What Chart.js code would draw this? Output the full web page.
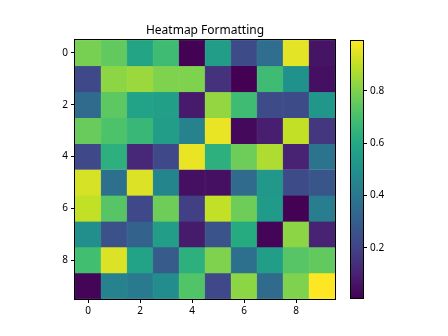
<!DOCTYPE html>
<html><head><meta charset="utf-8">
<script src="https://cdn.jsdelivr.net/npm/chart.js@4"></script>
<style>html,body{margin:0;padding:0;background:#fff}#wrap{position:relative;width:448px;height:336px}canvas{position:absolute;left:0;top:0}</style>
</head><body><div id="wrap"><canvas id="main" width="448" height="336"></canvas><canvas id="cbar" width="448" height="336"></canvas></div>
<script>
const chartTitle = 'Heatmap Formatting';
const colLabels = ['0','1','2','3','4','5','6','7','8','9'];
const axisTicks = [0, 2, 4, 6, 8];
const colorbarTicks = [0.2, 0.4, 0.6, 0.8];
const row0 = [0.79, 0.75, 0.58, 0.68, 0.01, 0.55, 0.23, 0.36, 0.95, 0.06];
const row1 = [0.22, 0.82, 0.84, 0.80, 0.80, 0.15, 0.008, 0.68, 0.50, 0.05];
const row2 = [0.35, 0.74, 0.57, 0.56, 0.08, 0.83, 0.68, 0.23, 0.23, 0.52];
const row3 = [0.76, 0.71, 0.66, 0.55, 0.44, 0.96, 0.03, 0.09, 0.90, 0.16];
const row4 = [0.22, 0.63, 0.12, 0.22, 0.96, 0.63, 0.77, 0.87, 0.10, 0.38];
const row5 = [0.93, 0.37, 0.94, 0.45, 0.05, 0.05, 0.35, 0.53, 0.23, 0.27];
const row6 = [0.90, 0.73, 0.22, 0.77, 0.19, 0.90, 0.77, 0.54, 0.01, 0.42];
const row7 = [0.49, 0.25, 0.32, 0.55, 0.08, 0.26, 0.61, 0.02, 0.82, 0.10];
const row8 = [0.69, 0.94, 0.57, 0.29, 0.63, 0.80, 0.37, 0.55, 0.73, 0.75];
const row9 = [0.02, 0.44, 0.41, 0.48, 0.72, 0.22, 0.82, 0.35, 0.80, 0.99];

const rows = [row0,row1,row2,row3,row4,row5,row6,row7,row8,row9];
const flat = rows.flat();
const vmin = Math.min(...flat), vmax = Math.max(...flat);

const VIR = ['#440154','#482475','#414487','#355f8d','#2a788e','#21918c','#22a884','#44bf70','#7ad151','#bddf26','#fde725'];
function hex(h){return [parseInt(h.slice(1,3),16),parseInt(h.slice(3,5),16),parseInt(h.slice(5,7),16)];}
function viridis(t){
  t = Math.max(0, Math.min(1, t));
  const p = t*(VIR.length-1); const i = Math.min(Math.floor(p), VIR.length-2); const f = p-i;
  const a = hex(VIR[i]), b = hex(VIR[i+1]);
  return 'rgb(' + a.map((x,k)=>Math.round(x+(b[k]-x)*f)).join(',') + ')';
}
const FAM = "'Noto Sans', 'Open Sans', sans-serif";
const FONT = {family:FAM, size:10};
const frame = {id:'frame', afterDatasetsDraw(c){
  const a=c.chartArea, g=c.ctx; g.save(); g.strokeStyle='#000'; g.lineWidth=1;
  g.strokeRect(Math.round(a.left)-0.5, Math.round(a.top)-0.5, Math.round(a.right-a.left)+1, Math.round(a.bottom-a.top)+1); g.restore();}};

Chart.defaults.animation = false;

new Chart(document.getElementById('main'), {
  type:'bar',
  data:{labels:colLabels, datasets: rows.map((row,r)=>({
    data: row.map(()=>[r-0.5, r+0.5]),
    backgroundColor: row.map(v=>viridis((v-vmin)/(vmax-vmin))),
    borderColor: row.map(v=>viridis((v-vmin)/(vmax-vmin))),
    borderWidth:0.5, borderSkipped:false, grouped:false, barPercentage:1, categoryPercentage:1
  }))},
  options:{responsive:false, animation:false,
    layout:{padding:{left:45, right:113, top:0, bottom:17}},
    plugins:{legend:{display:false}, tooltip:{enabled:false},
      title:{display:true, text:chartTitle, fullSize:false, color:'#000', font:{family:FAM, size:12, weight:'normal'}, padding:{top:23, bottom:2.6}}},
    scales:{
      x:{type:'category', offset:true, grid:{offset:false, drawOnChartArea:false, drawTicks:true, tickLength:4, color:'#000'}, border:{display:false},
        ticks:{color:'#000', font:FONT, padding:2, maxRotation:0, autoSkip:false},
        afterBuildTicks:s=>{s.ticks = s.ticks.filter(t=>axisTicks.includes(t.value));}, afterFit:s=>{s.height=20;}},
      y:{type:'linear', min:-0.5, max:9.5, reverse:true, grid:{drawOnChartArea:false, drawTicks:true, tickLength:4, color:'#000'}, border:{display:false},
        ticks:{color:'#000', font:FONT, padding:3},
        afterBuildTicks:s=>{s.ticks = axisTicks.map(v=>({value:v}));}, afterFit:s=>{s.width=30;}}
    }},
  plugins:[frame]
});

new Chart(document.getElementById('cbar'), {
  type:'bar',
  data:{labels:['cb'], datasets:[{data:[[vmin, vmax]], borderWidth:0, barPercentage:1, categoryPercentage:1,
    backgroundColor: ctx=>{const c=ctx.chart; if(!c.chartArea) return VIR[5]; const y=c.scales.y;
      const g=c.ctx.createLinearGradient(0,y.getPixelForValue(vmin),0,y.getPixelForValue(vmax));
      VIR.forEach((col,i)=>g.addColorStop(i/(VIR.length-1), col)); return g;}}]},
  options:{responsive:false, animation:false,
    layout:{padding:{left:351, right:45, top:41, bottom:38}},
    plugins:{legend:{display:false}, tooltip:{enabled:false}},
    scales:{
      x:{display:false},
      y:{position:'right', min:vmin, max:vmax, grid:{drawOnChartArea:false, drawTicks:true, tickLength:4, color:'#000'}, border:{display:false},
        ticks:{color:'#000', font:FONT, padding:3, callback:v=>v.toFixed(1)},
        afterBuildTicks:s=>{s.ticks = colorbarTicks.map(v=>({value:v}));}, afterFit:s=>{s.width=40;}}
    }},
  plugins:[frame]
});
</script></body></html>
